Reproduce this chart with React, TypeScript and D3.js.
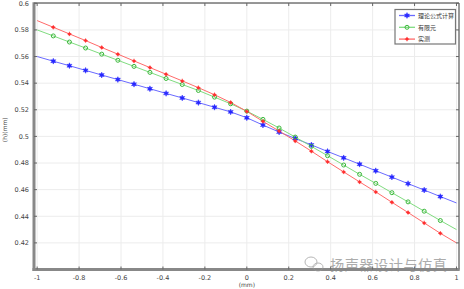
import React from "react";
import * as d3 from "d3";

const xValues = [-1, -0.923, -0.846, -0.769, -0.692, -0.615, -0.538, -0.462, -0.385, -0.308, -0.231, -0.154, -0.077, 0, 0.077, 0.154, 0.231, 0.308, 0.385, 0.462, 0.538, 0.615, 0.692, 0.769, 0.846, 0.923, 1];
const theory = [0.56, 0.5565, 0.5531, 0.5496, 0.5461, 0.5427, 0.5392, 0.5358, 0.5323, 0.5289, 0.5254, 0.5219, 0.5184, 0.514, 0.5085, 0.5033, 0.4984, 0.4936, 0.4887, 0.4839, 0.4791, 0.4742, 0.4694, 0.4645, 0.4597, 0.4548, 0.45];
const fem = [0.58, 0.5755, 0.5709, 0.5664, 0.5618, 0.5572, 0.5526, 0.5481, 0.5435, 0.539, 0.5345, 0.5295, 0.5245, 0.519, 0.5128, 0.5063, 0.4995, 0.4925, 0.4855, 0.4785, 0.4715, 0.4647, 0.4577, 0.4508, 0.4438, 0.4368, 0.43];
const measured = [0.587, 0.582, 0.577, 0.572, 0.5668, 0.5618, 0.5567, 0.5517, 0.5467, 0.5417, 0.5366, 0.5313, 0.5255, 0.5188, 0.5113, 0.504, 0.4966, 0.4889, 0.481, 0.4733, 0.4658, 0.4583, 0.4505, 0.4428, 0.435, 0.4272, 0.42];
const seriesNames = ["理论公式计算", "有限元", "实测"];
const xTicks = [-1, -0.8, -0.6, -0.4, -0.2, 0, 0.2, 0.4, 0.6, 0.8, 1];
const yTicks = [0.42, 0.44, 0.46, 0.48, 0.5, 0.52, 0.54, 0.56, 0.58, 0.6];
const xLabel = "(mm)";
const yLabel = "(h)(mm)";
const watermark = "扬声器设计与仿真";

const W = 464, H = 289;
const L = 34, R = 459, T = 3, B = 269.5;

function Marker({ type, x, y, color }: { type: string; x: number; y: number; color: string }) {
  if (type === "star") {
    const pts = d3.range(12).map(i => {
      const a = (Math.PI / 6) * i - Math.PI / 2;
      const r = i % 2 === 0 ? 2.9 : 1.4;
      return `${x + r * Math.cos(a)},${y + r * Math.sin(a)}`;
    }).join(" ");
    return <polygon points={pts} fill={color} stroke={color} strokeWidth={0.5} />;
  }
  if (type === "circle") {
    return <circle cx={x} cy={y} r={2} fill="none" stroke={color} strokeWidth={1} />;
  }
  return (
    <g>
      <circle cx={x} cy={y} r={1.5} fill={color} />
      <path d={`M${x - 2.2},${y}H${x + 2.2}M${x},${y - 2.2}V${y + 2.2}`} stroke={color} strokeWidth={0.8} />
    </g>
  );
}

export default function App() {
  const x = d3.scaleLinear().domain([-1.015, 1.012]).range([L, R]);
  const y = d3.scaleLinear().domain([0.4, 0.6]).range([B, T + 0.3]);
  const series = [
    { name: seriesNames[0], values: theory, color: "#2626ff", line: "#6a6aff", marker: "star" },
    { name: seriesNames[1], values: fem, color: "#3cb83c", line: "#80dc80", marker: "circle" },
    { name: seriesNames[2], values: measured, color: "#ff3030", line: "#ff6a6a", marker: "diamond" },
  ];
  const line = d3.line<number>().x((_, i) => x(xValues[i])).y(d => y(d));
  const font = "'DejaVu Sans', sans-serif";
  return (
    <svg width={W} height={H} style={{ position: "absolute", left: 0, top: 0, background: "#fff" }}>
      <rect width={W} height={H} fill="#fff" />
      {xTicks.map(t => (
        <line key={"gx" + t} x1={x(t)} x2={x(t)} y1={T} y2={B} stroke="#ececec" strokeWidth={1} />
      ))}
      {yTicks.map(t => (
        <line key={"gy" + t} x1={L} x2={R} y1={y(t)} y2={y(t)} stroke="#ececec" strokeWidth={1} />
      ))}
      {series.map(s => (
        <path key={s.name} d={line(s.values) || ""} fill="none" stroke={s.line} strokeWidth={1} />
      ))}
      {series.map(s => (
        <g key={s.name + "m"}>
          {s.values.map((v, i) => (i === 0 || i === s.values.length - 1 ? null :
            <Marker key={i} type={s.marker} x={x(xValues[i])} y={y(v)} color={s.color} />
          ))}
        </g>
      ))}
      {/* frame */}
      <line x1={L} x2={R} y1={T} y2={T} stroke="#777" strokeWidth={1.5} />
      <line x1={R} x2={R} y1={T} y2={B} stroke="#777" strokeWidth={1.5} />
      <line x1={L} x2={L} y1={T - 0.7} y2={B + 1.5} stroke="#888" strokeWidth={3} />
      <line x1={L - 1.5} x2={R + 0.7} y1={B} y2={B} stroke="#888" strokeWidth={3} />
      {xTicks.map(t => (
        <g key={"tx" + t}>
          <line x1={x(t)} x2={x(t)} y1={B} y2={B - 3} stroke="#666" />
          <line x1={x(t)} x2={x(t)} y1={T} y2={T + 3} stroke="#666" />
          <text x={x(t)} y={B + 10} fontSize={6.5} fontFamily={font} fill="#444" textAnchor="middle">{String(t)}</text>
        </g>
      ))}
      {yTicks.map(t => (
        <g key={"ty" + t}>
          <line x1={L} x2={L + 3} y1={y(t)} y2={y(t)} stroke="#666" />
          <line x1={R} x2={R - 3} y1={y(t)} y2={y(t)} stroke="#666" />
          <text x={L - 5} y={y(t) + 2.3} fontSize={6.5} fontFamily={font} fill="#444" textAnchor="end">{String(t)}</text>
        </g>
      ))}
      <text x={x(0)} y={B + 17} fontSize={6} fontFamily={font} fill="#444" textAnchor="middle">{xLabel}</text>
      <text transform={`translate(7,${y(0.505)}) rotate(-90)`} fontSize={6} fontFamily={font} fill="#444" textAnchor="middle">{yLabel}</text>
      {/* legend */}
      <rect x={395} y={9.5} width={60.5} height={34.5} fill="#fff" stroke="#777" strokeWidth={1.2} />
      {series.map((s, i) => {
        const ly = 15.5 + i * 11.8;
        return (
          <g key={s.name + "l"}>
            <line x1={399} x2={415} y1={ly} y2={ly} stroke={s.line} strokeWidth={1.3} />
            <Marker type={s.marker} x={407} y={ly} color={s.color} />
            <text x={418} y={ly + 2.2} fontSize={6} fontFamily="'Noto Sans CJK SC', sans-serif" fill="#333">{s.name}</text>
          </g>
        );
      })}
      {/* watermark */}
      <g opacity={0.7}>
        <ellipse cx={311} cy={262} rx={6} ry={5} fill="none" stroke="#999" strokeWidth={1} />
        <ellipse cx={318} cy={267} rx={5} ry={4} fill="none" stroke="#999" strokeWidth={1} />
        <text x={330} y={270} fontSize={14.2} fontFamily="'Noto Sans CJK SC', sans-serif" fill="#8a8a8a" textLength={117}>{watermark}</text>
      </g>
    </svg>
  );
}
